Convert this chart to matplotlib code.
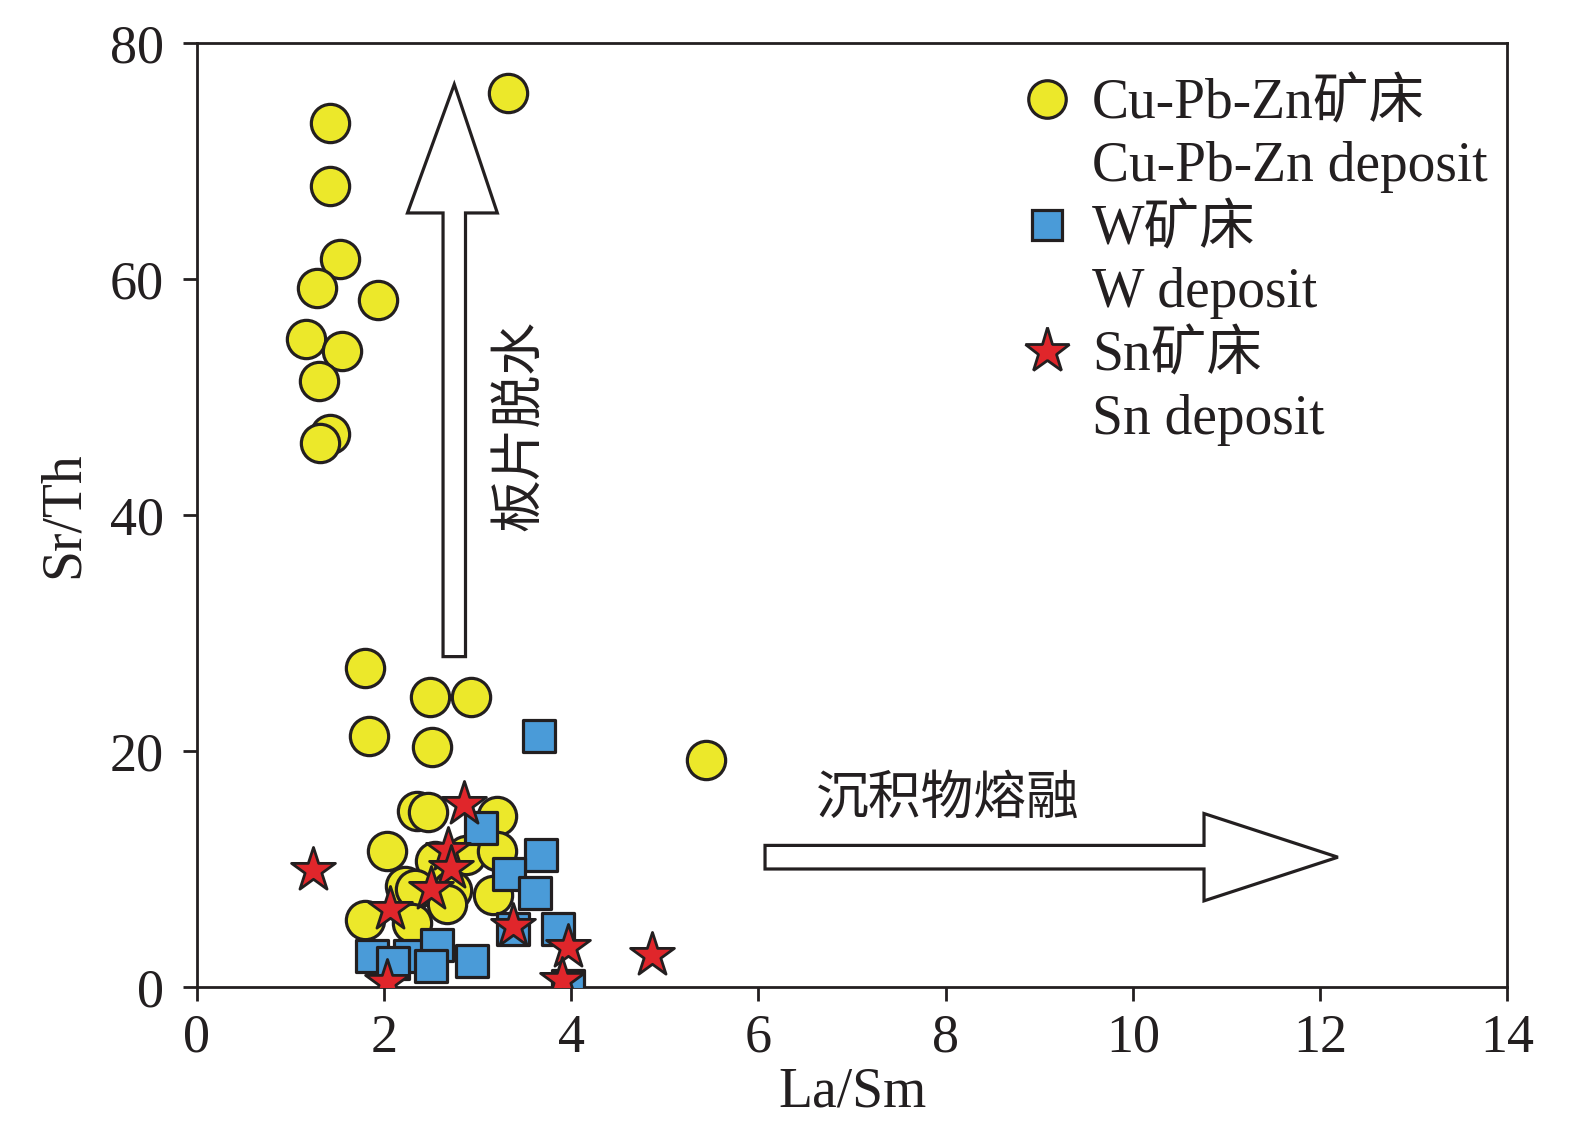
import matplotlib
matplotlib.use("Agg")
import matplotlib.pyplot as plt
from matplotlib.lines import Line2D
from matplotlib.patches import Polygon

plt.rcParams['font.family'] = ['Liberation Serif', 'Noto Sans CJK SC', 'DejaVu Sans']

# Cu-Pb-Zn deposit
cu_x = [3.32, 1.42, 1.42, 1.53, 1.28, 1.93, 1.17, 1.55, 1.31, 1.42, 1.32,
        1.80, 2.49, 2.93, 1.84, 2.51, 5.44,
        2.35, 2.47, 3.21, 2.03, 2.54, 2.88, 3.21, 2.22, 2.33, 2.73, 2.67,
        3.16, 1.80, 2.30]
cu_y = [75.8, 73.2, 67.9, 61.7, 59.2, 58.2, 54.9, 53.9, 51.4, 46.9, 46.1,
        27.0, 24.6, 24.6, 21.3, 20.3, 19.2,
        14.9, 14.8, 14.5, 11.5, 10.7, 11.2, 11.5, 8.6, 8.3, 8.2, 7.0,
        7.8, 5.7, 5.4]

# W deposit
w_x = [3.66, 3.04, 3.68, 3.33, 3.61, 3.38, 3.86, 3.96, 1.87, 2.28, 2.57,
       2.50, 2.94, 2.10]
w_y = [21.3, 13.5, 11.2, 9.6, 8.0, 4.9, 4.9, 0.1, 2.6, 2.6, 3.6,
       1.8, 2.2, 2.0]

# Sn deposit
sn_x = [2.85, 2.68, 2.72, 2.50, 2.06, 1.24, 3.38, 3.96, 3.90, 2.03, 4.86]
sn_y = [15.5, 11.6, 10.1, 8.3, 6.6, 9.9, 5.2, 3.4, 0.6, 0.4, 2.7]

xticks = [0, 2, 4, 6, 8, 10, 12, 14]
yticks = [0, 20, 40, 60, 80]

labels = ['Cu-Pb-Zn矿床', 'Cu-Pb-Zn deposit', 'W矿床', 'W deposit', 'Sn矿床', 'Sn deposit']

edge = '#231F20'
c_yel = '#ECE82A'
c_blu = '#4A9BD8'
c_red = '#E0262B'

fig = plt.figure(figsize=(15.75, 11.45), dpi=100)
ax = fig.add_axes([0.125, 0.138, 0.832, 0.8244])

ax.scatter(cu_x, cu_y, s=760, marker='o', facecolor=c_yel, edgecolor=edge, linewidth=2.3, zorder=3)
ax.scatter(w_x, w_y, s=520, marker='s', facecolor=c_blu, edgecolor=edge, linewidth=2.3, zorder=4)
ax.scatter(sn_x, sn_y, s=1100, marker='*', facecolor=c_red, edgecolor=edge, linewidth=2.0, zorder=5)

# arrows (annotation shapes)
v_arrow = [(2.63, 28.0), (2.87, 28.0), (2.87, 65.6), (3.21, 65.6), (2.75, 76.5),
           (2.25, 65.6), (2.63, 65.6)]
ax.add_patch(Polygon(v_arrow, closed=True, facecolor='white', edgecolor=edge, linewidth=2.3, zorder=2))
h_arrow = [(6.07, 10.0), (10.76, 10.0), (10.76, 7.3), (12.19, 11.0), (10.76, 14.7),
           (10.76, 12.0), (6.07, 12.0)]
ax.add_patch(Polygon(h_arrow, closed=True, facecolor='white', edgecolor=edge, linewidth=2.3, zorder=2))

ax.text(3.45, 47.6, '板片脱水', rotation=90, ha='center', va='center', fontsize=38,
        color=edge, family=['Noto Sans CJK SC'], fontweight='light')
ax.text(8.02, 16.0, '沉积物熔融', ha='center', va='center', fontsize=38,
        color=edge, family=['Noto Sans CJK SC'], fontweight='light')

ax.set_xlim(0, 14)
ax.set_ylim(0, 80)
ax.set_xticks(xticks)
ax.set_yticks(yticks)
ax.tick_params(direction='out', length=10, width=2, labelsize=39, colors=edge)
ax.tick_params(axis='y', pad=14)
ax.tick_params(axis='x', pad=9)
for sp in ax.spines.values():
    sp.set_linewidth(2)
    sp.set_color(edge)
ax.set_xlabel('La/Sm', fontsize=40, color=edge, labelpad=2)
ax.set_ylabel('Sr/Th', fontsize=40, color=edge, labelpad=14)

blank = Line2D([], [], linestyle='none', marker=None)
handles = [
    Line2D([], [], linestyle='none', marker='o', markersize=27, markerfacecolor=c_yel,
           markeredgecolor=edge, markeredgewidth=2.3),
    blank,
    Line2D([], [], linestyle='none', marker='s', markersize=22, markerfacecolor=c_blu,
           markeredgecolor=edge, markeredgewidth=2.3),
    blank,
    Line2D([], [], linestyle='none', marker='*', markersize=34, markerfacecolor=c_red,
           markeredgecolor=edge, markeredgewidth=2.0),
    blank,
]
leg = ax.legend(handles, labels, loc='upper left', bbox_to_anchor=(1022 / 1575, 1 - 78 / 1145),
                bbox_transform=fig.transFigure, frameon=False, fontsize=40,
                handlelength=0.9, handletextpad=0.36, labelspacing=0.2, borderpad=0,
                borderaxespad=0)
for t in leg.get_texts():
    t.set_color(edge)

fig.savefig('out.png', dpi=100)
